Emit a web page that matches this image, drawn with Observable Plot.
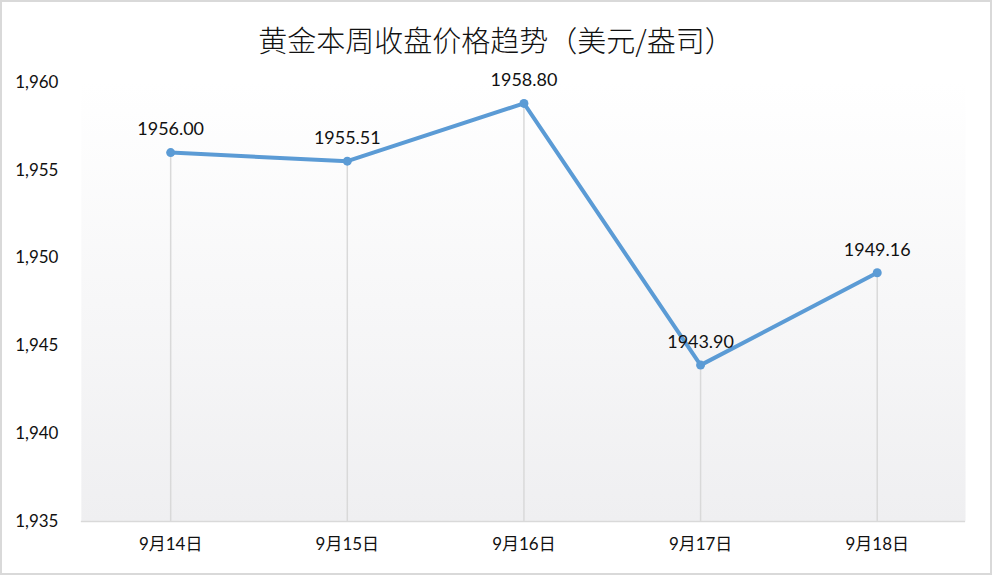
<!DOCTYPE html>
<html>
<head>
<meta charset="utf-8">
<script src="https://cdn.jsdelivr.net/npm/d3@7"></script>
<script src="https://cdn.jsdelivr.net/npm/@observablehq/plot@0.6"></script>
<style>
  html, body { margin: 0; padding: 0; background: #fff; }
  #wrap { position: relative; width: 992px; height: 575px; box-sizing: border-box; border: 2px solid #d9d9d9; overflow: hidden; }
  #title { position: absolute; left: 0; right: 0; top: 17px; text-align: center; font-family: "Noto Sans CJK SC", sans-serif; font-weight: 300; font-size: 29px; color: #111; line-height: 40px; }
  #chart { position: absolute; left: -2px; top: -2px; }
</style>
</head>
<body>
<div id="wrap">
  <div id="chart"></div>
  <div id="title">黄金本周收盘价格趋势（美元/盎司）</div>
</div>
<script>
const dates = ["9月14日", "9月15日", "9月16日", "9月17日", "9月18日"];
const prices = [1956.00, 1955.51, 1958.80, 1943.90, 1949.16];
const yTicks = [1935, 1940, 1945, 1950, 1955, 1960];

const data = dates.map((d, i) => ({date: d, price: prices[i]}));
const yMin = 1935, yMax = 1960;

const chart = Plot.plot({
  width: 992,
  height: 575,
  marginLeft: 81,
  marginRight: 25,
  marginTop: 82,
  marginBottom: 53,
  style: {fontFamily: "Lato, 'Noto Sans CJK SC', sans-serif", fontSize: "17px", color: "#111", background: "transparent"},
  x: {type: "band", domain: dates, padding: 0, label: null},
  y: {domain: [yMin, yMax], label: null},
  marks: [
    Plot.frame({fill: "url(#bggrad)", stroke: null}),
    Plot.axisY({ticks: yTicks, tickFormat: d3.format(","), tickSize: 0, tickPadding: 23, fontSize: 17, label: null}),
    Plot.axisX({tickSize: 0, tickPadding: 17, fontSize: 17, label: null}),
    Plot.ruleX(data, {x: "date", y1: yMin, y2: "price", stroke: "#d9d9d9", strokeWidth: 1.5}),
    Plot.ruleY([yMin], {stroke: "#d9d9d9", strokeWidth: 1.5}),
    Plot.line(data, {x: "date", y: "price", stroke: "#5b9bd5", strokeWidth: 4, strokeLinejoin: "round"}),
    Plot.dot(data, {x: "date", y: "price", fill: "#5b9bd5", r: 4.5, stroke: null}),
    Plot.text(data, {x: "date", y: "price", text: d => d.price.toFixed(2), dy: -23, fontSize: 18, fill: "#111"})
  ]
});

const ns = "http://www.w3.org/2000/svg";
const defs = document.createElementNS(ns, "defs");
const grad = document.createElementNS(ns, "linearGradient");
grad.setAttribute("id", "bggrad");
grad.setAttribute("x1", "0"); grad.setAttribute("y1", "0");
grad.setAttribute("x2", "0"); grad.setAttribute("y2", "1");
[["0%", "#ffffff"], ["100%", "#efeff1"]].forEach(([o, c]) => {
  const s = document.createElementNS(ns, "stop");
  s.setAttribute("offset", o); s.setAttribute("stop-color", c);
  grad.appendChild(s);
});
defs.appendChild(grad);
chart.insertBefore(defs, chart.firstChild);
document.getElementById("chart").appendChild(chart);
</script>
</body>
</html>
